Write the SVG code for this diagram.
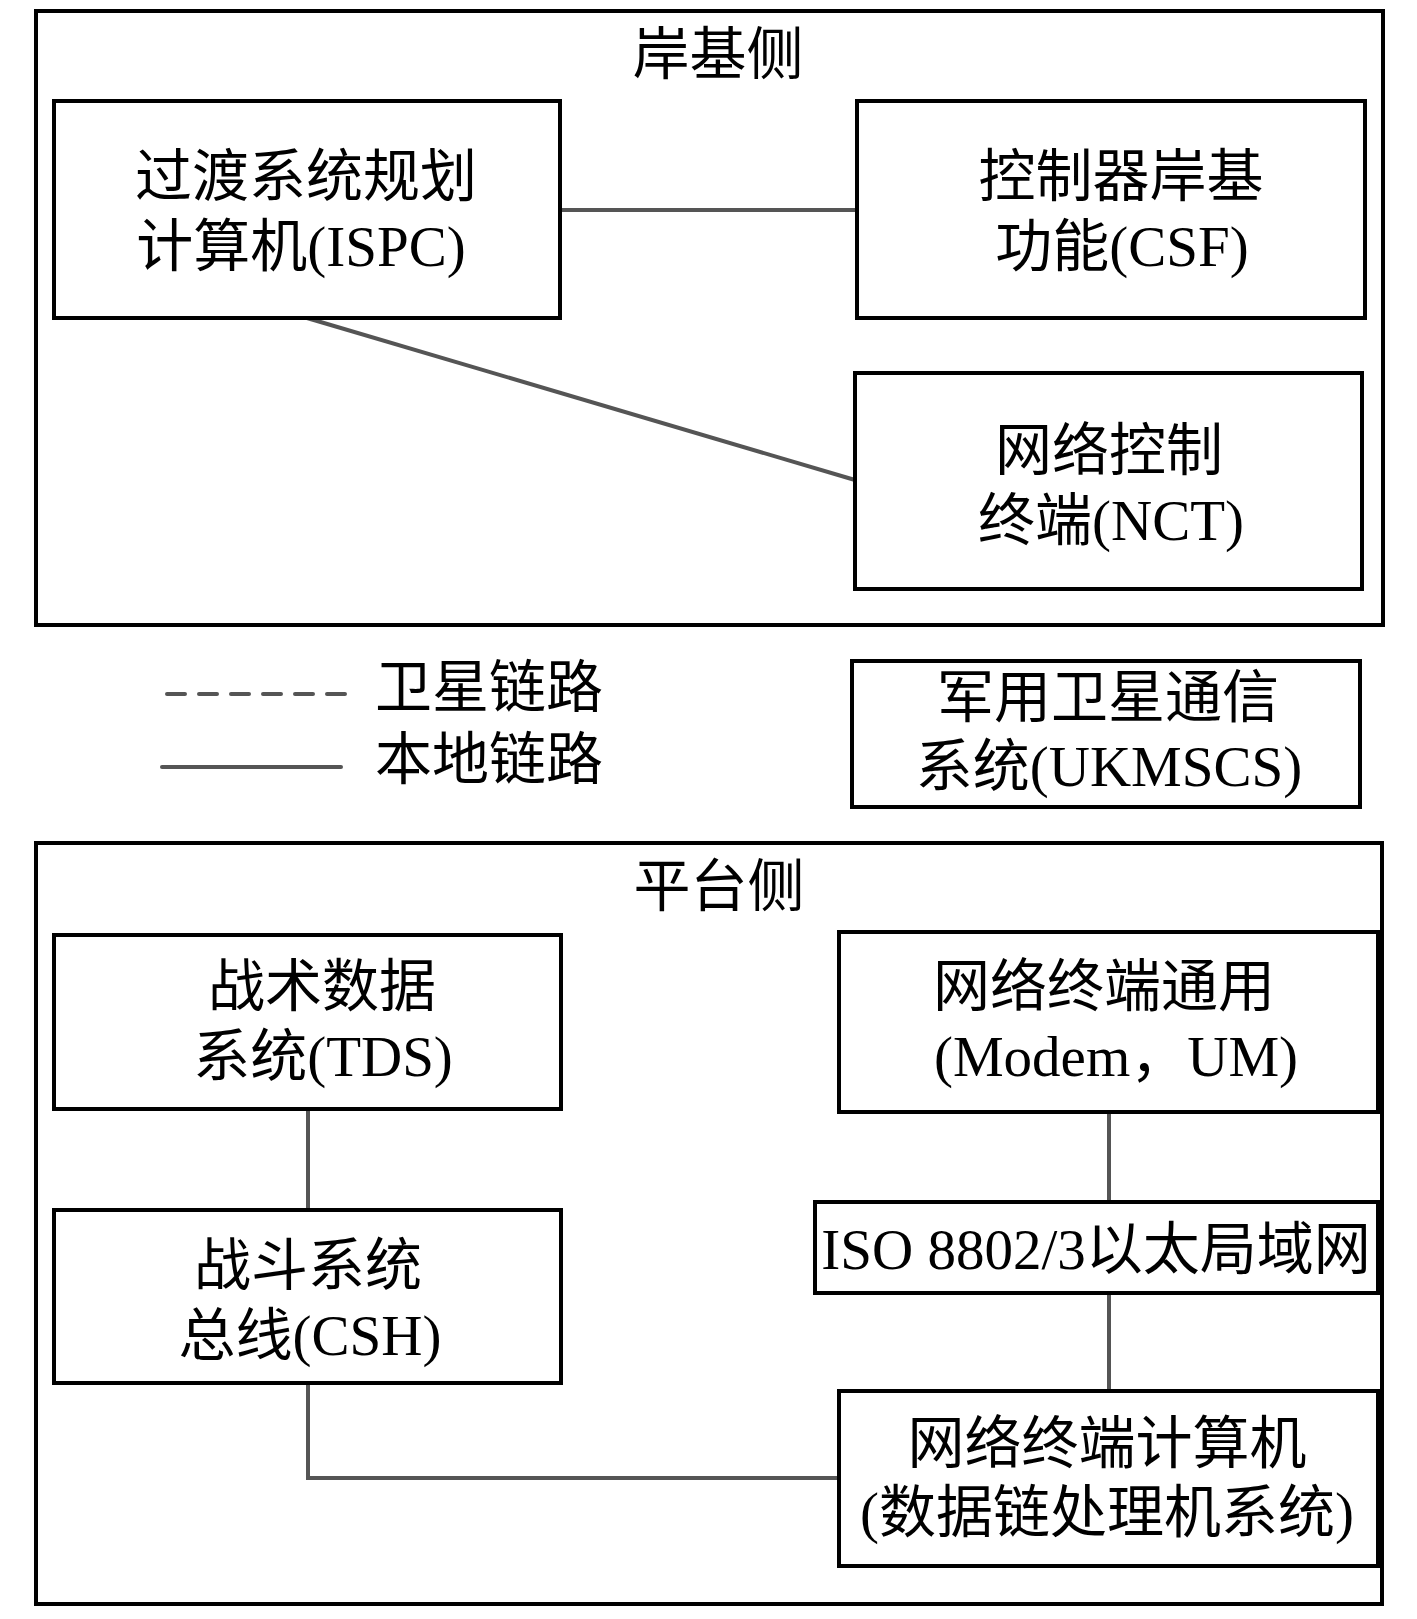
<svg xmlns="http://www.w3.org/2000/svg" width="1417" height="1619" viewBox="0 0 1417 1619">
<style>
.frame{fill:none;stroke:#000;stroke-width:4}
.box{fill:#fff;stroke:#000;stroke-width:4}
.t{font-family:"Liberation Serif","Noto Sans CJK SC",serif;font-size:57px;fill:#000;text-anchor:middle}
.link{fill:none;stroke:#555;stroke-width:4}
.lg{fill:none;stroke:#555;stroke-width:4;stroke-linecap:round}
.sat{fill:none;stroke:#555;stroke-width:4;stroke-linecap:round;stroke-dasharray:18 14}
</style>
<rect width="1417" height="1619" fill="#fff"/>
<g id="shore">
<rect class="frame" x="36" y="11" width="1347" height="614"/>
<text class="t" x="718" y="74">岸基侧</text>
</g>
<g id="platform">
<rect class="frame" x="36" y="843" width="1346" height="761"/>
<text class="t" x="719" y="906">平台侧</text>
</g>
<g id="connectors">
<line class="link" x1="560" y1="210" x2="857" y2="210"/>
<line class="link" x1="307" y1="318" x2="855" y2="480"/>
<line class="link" x1="308" y1="1109" x2="308" y2="1210"/>
<polyline class="link" points="308,1383 308,1478 839,1478"/>
<line class="link" x1="1109" y1="1112" x2="1109" y2="1202"/>
<line class="link" x1="1109" y1="1293" x2="1109" y2="1391"/>
</g>
<g id="ispc">
<rect class="box" x="54" y="101" width="506" height="217"/>
<text class="t" x="306" y="196">过渡系统规划</text>
<text class="t" x="301" y="266">计算机(ISPC)</text>
</g>
<g id="csf">
<rect class="box" x="857" y="101" width="508" height="217"/>
<text class="t" x="1121" y="196">控制器岸基</text>
<text class="t" x="1122" y="266">功能(CSF)</text>
</g>
<g id="nct">
<rect class="box" x="855" y="373" width="507" height="216"/>
<text class="t" x="1109" y="470">网络控制</text>
<text class="t" x="1111" y="540">终端(NCT)</text>
</g>
<g id="legend">
<line class="sat" x1="167" y1="694" x2="346" y2="694"/>
<text class="t" x="489" y="707">卫星链路</text>
<line class="lg" x1="162" y1="767" x2="341" y2="767"/>
<text class="t" x="489" y="779">本地链路</text>
</g>
<g id="ukmscs">
<rect class="box" x="852" y="661" width="508" height="146"/>
<text class="t" x="1108" y="717">军用卫星通信</text>
<text class="t" x="1109" y="786">系统(UKMSCS)</text>
</g>
<g id="tds">
<rect class="box" x="54" y="935" width="507" height="174"/>
<text class="t" x="322" y="1006">战术数据</text>
<text class="t" x="323" y="1076">系统(TDS)</text>
</g>
<g id="csh">
<rect class="box" x="54" y="1210" width="507" height="173"/>
<text class="t" x="308" y="1285">战斗系统</text>
<text class="t" x="310" y="1355">总线(CSH)</text>
</g>
<g id="modem">
<rect class="box" x="839" y="932" width="539" height="180"/>
<text class="t" x="1104" y="1006">网络终端通用</text>
<text class="t" x="1116" y="1076">(Modem，UM)</text>
</g>
<g id="iso">
<rect class="box" x="815" y="1202" width="563" height="91"/>
<text class="t" x="1096" y="1269">ISO 8802/3以太局域网</text>
</g>
<g id="ntc">
<rect class="box" x="839" y="1391" width="539" height="175"/>
<text class="t" x="1107" y="1463">网络终端计算机</text>
<text class="t" x="1107" y="1532">(数据链处理机系统)</text>
</g>
</svg>
